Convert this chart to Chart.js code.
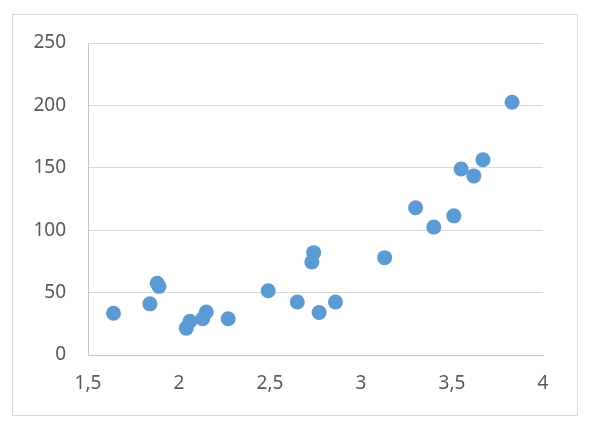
<!DOCTYPE html>
<html lang="it">
<head>
    <meta charset="UTF-8">
    <title>Scatter</title>
    <script src="https://cdn.jsdelivr.net/npm/chart.js"></script>
    <style>
        body { margin: 0; background: #fff; }
        .cornice {
            position: absolute;
            left: 12px;
            top: 14px;
            width: 564px;
            height: 400px;
            border: 1px solid #d9d9d9;
        }
    </style>
</head>
<body>
    <div class="cornice">
        <canvas id="grafico" width="564" height="400"></canvas>
    </div>
    <script>
        // valori
        const valoriX = [1.64, 1.84, 1.88, 1.89, 2.04, 2.06, 2.13, 2.15, 2.27, 2.49, 2.65, 2.73, 2.74, 2.77, 2.86, 3.13, 3.30, 3.40, 3.51, 3.55, 3.62, 3.67, 3.83];
        const valoriY = [33.5, 41, 57.5, 55, 21.5, 27, 29, 34.5, 29, 51.5, 42.5, 74.5, 82, 34, 42.5, 78, 118, 102.5, 111.5, 149, 143.5, 156.5, 202.5];

        const xMin = 1.5, xMax = 4, xPasso = 0.5;
        const yMin = 0, yMax = 250, yPasso = 50;

        const punti = valoriX.map((x, i) => ({ x: x, y: valoriY[i] }));
        const virgola = v => String(v).replace('.', ',');

        const ctx = document.getElementById('grafico').getContext('2d');
        new Chart(ctx, {
            type: 'scatter',
            data: {
                datasets: [{
                    data: punti,
                    backgroundColor: '#5b9bd5',
                    borderColor: '#5b9bd5',
                    borderWidth: 0,
                    pointRadius: 7.5,
                    pointHoverRadius: 7.5
                }]
            },
            options: {
                responsive: false,
                animation: false,
                layout: { padding: { left: 0, top: 28, right: 34, bottom: 0 } },
                plugins: {
                    legend: { display: false },
                    tooltip: { enabled: false }
                },
                scales: {
                    x: {
                        type: 'linear',
                        min: xMin,
                        max: xMax,
                        ticks: {
                            stepSize: xPasso,
                            padding: 17,
                            color: '#595959',
                            font: { family: 'Noto Sans', size: 19 },
                            callback: v => virgola(v)
                        },
                        grid: { display: false, drawTicks: false },
                        border: { display: true, color: '#c4c4c4', width: 1 },
                        afterFit: s => { s.height = 60; s.paddingLeft = 0; s.paddingRight = 0; }
                    },
                    y: {
                        min: yMin,
                        max: yMax,
                        ticks: {
                            stepSize: yPasso,
                            padding: 22,
                            color: '#595959',
                            font: { family: 'Noto Sans', size: 19 }
                        },
                        grid: { color: '#d9d9d9', lineWidth: 1, drawTicks: false },
                        border: { display: true, color: '#c4c4c4', width: 1 },
                        afterFit: s => { s.width = 75; s.paddingTop = 0; s.paddingBottom = 0; }
                    }
                }
            }
        });
    </script>
</body>
</html>
